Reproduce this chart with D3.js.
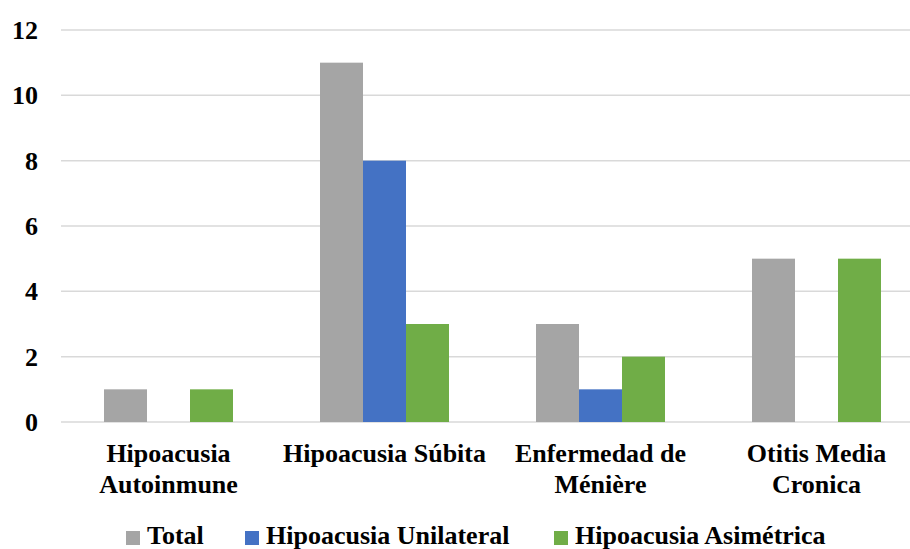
<!DOCTYPE html>
<html>
<head>
<meta charset="utf-8">
<script src="https://cdn.jsdelivr.net/npm/d3@7"></script>
<style>
  html, body { margin: 0; padding: 0; background: #fff; }
  svg { display: block; }
  text { font-family: "Liberation Serif", "Times New Roman", serif; font-weight: bold; fill: #000; }
</style>
</head>
<body>
<svg id="chart" width="910" height="549"></svg>
<script>
// Category names (line breaks mark where the axis labels wrap)
const categories = ["Hipoacusia\nAutoinmune", "Hipoacusia Súbita", "Enfermedad de\nMénière", "Otitis Media\nCronica"];
const seriesNames = ["Total", "Hipoacusia Unilateral", "Hipoacusia Asimétrica"];
const totalValues = [1, 11, 3, 5];
const unilateralValues = [0, 8, 1, 0];
const asimetricaValues = [1, 3, 2, 5];
const yTicks = [0, 2, 4, 6, 8, 10, 12];
const colors = ["#A5A5A5", "#4472C4", "#70AD47"];

const series = [totalValues, unilateralValues, asimetricaValues];
const svg = d3.select("#chart");

const x = d3.scaleBand().domain(categories).range([60.5, 924.5]).paddingInner(0.4028).paddingOuter(0.2014);
const xs = d3.scaleBand().domain(seriesNames).range([0, x.bandwidth()]).padding(0);
const y = d3.scaleLinear().domain([0, 12]).range([422, 30]);

// Horizontal gridlines
svg.append("g").selectAll("line").data(yTicks).join("line")
  .attr("x1", 61).attr("x2", 910)
  .attr("y1", d => y(d)).attr("y2", d => y(d))
  .attr("stroke", "#D9D9D9").attr("stroke-width", 1.5);

// Y tick labels
svg.append("g").selectAll("text").data(yTicks).join("text")
  .attr("x", 38).attr("y", d => y(d))
  .attr("dy", "0.35em")
  .attr("text-anchor", "end")
  .style("font-size", "26px")
  .text(d => d);

// Bars
const rows = [];
categories.forEach((c, i) => series.forEach((s, j) => rows.push({ c, name: seriesNames[j], v: s[i], j })));
svg.append("g").selectAll("rect").data(rows.filter(r => r.v > 0)).join("rect")
  .attr("x", d => x(d.c) + xs(d.name))
  .attr("width", xs.bandwidth())
  .attr("y", d => y(d.v))
  .attr("height", d => y(0) - y(d.v))
  .attr("fill", d => colors[d.j]);

// Category labels
const lab = svg.append("g").selectAll("text").data(categories).join("text")
  .attr("x", d => x(d) + x.bandwidth() / 2)
  .attr("y", 462)
  .attr("text-anchor", "middle")
  .style("font-size", "26px");
lab.selectAll("tspan").data(d => d.split("\n")).join("tspan")
  .attr("x", function () { return d3.select(this.parentNode).attr("x"); })
  .attr("dy", (d, i) => i === 0 ? 0 : 31)
  .text(d => d);

// Legend
const legendX = [126, 245, 554];
const lg = svg.append("g").selectAll("g").data(seriesNames).join("g")
  .attr("transform", (d, i) => `translate(${legendX[i]},0)`);
lg.append("rect").attr("x", 0).attr("y", 531).attr("width", 14).attr("height", 14)
  .attr("fill", (d, i) => colors[i]);
lg.append("text").attr("x", 21).attr("y", 544)
  .style("font-size", "26px")
  .text(d => d);
</script>
</body>
</html>
